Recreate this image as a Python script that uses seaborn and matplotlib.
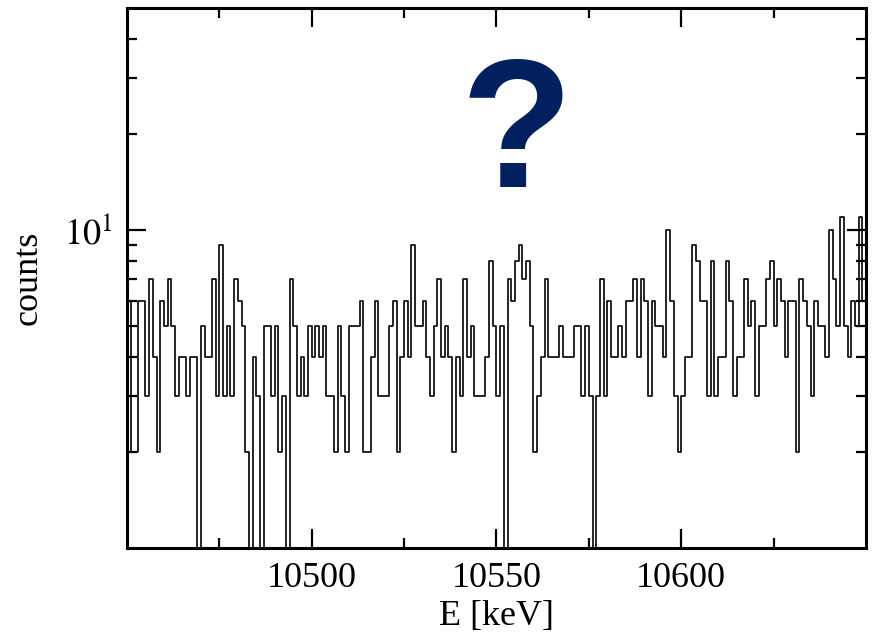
import numpy as np
import pandas as pd
import matplotlib
matplotlib.use('Agg')
import matplotlib.pyplot as plt
import seaborn as sns

# spectrum: 1 keV bins from 10450 to 10650 keV
e_start = 10450
bin_width = 1
counts = [
    6, 2, 2, 6, 6, 3, 7, 4, 2, 6,
    5, 7, 5, 3, 4, 4, 3, 4, 4, 1,
    5, 4, 4, 7, 3, 9, 3, 5, 3, 7,
    6, 5, 2, 1, 4, 3, 1, 5, 5, 3,
    5, 2, 3, 1, 7, 5, 3, 4, 3, 5,
    4, 5, 4, 5, 3, 3, 2, 5, 3, 2,
    5, 5, 5, 6, 2, 2, 4, 6, 3, 3,
    3, 5, 6, 2, 4, 6, 4, 9, 5, 5,
    6, 4, 3, 5, 7, 4, 5, 4, 2, 4,
    3, 7, 4, 5, 3, 3, 3, 4, 8, 5,
    3, 5, 1, 7, 6, 8, 9, 7, 8, 5,
    2, 3, 4, 7, 4, 4, 4, 5, 4, 4,
    4, 5, 5, 3, 5, 3, 1, 3, 7, 3,
    6, 4, 4, 5, 4, 6, 6, 7, 4, 7,
    6, 3, 6, 5, 5, 4, 10, 6, 3, 2,
    3, 4, 4, 9, 8, 6, 6, 3, 8, 3,
    4, 4, 8, 6, 3, 4, 4, 7, 5, 6,
    3, 5, 5, 7, 8, 5, 7, 6, 4, 6,
    6, 2, 7, 6, 5, 3, 6, 5, 5, 4,
    10, 7, 5, 11, 5, 4, 6, 5, 11, 6,
]
x_ticks = [10500, 10550, 10600]
x_minor = [10475, 10525, 10575, 10625]
y_minor = [2, 3, 4, 5, 6, 7, 8, 9, 20, 30, 40]

e_stop = e_start + bin_width * len(counts)
df = pd.DataFrame({'E': e_start + bin_width * (np.arange(len(counts)) + 0.5),
                   'counts': counts})

sns.set_style('ticks', {'axes.edgecolor': 'black', 'text.color': 'black',
                        'axes.labelcolor': 'black', 'xtick.color': 'black',
                        'ytick.color': 'black'})
plt.rcParams['font.family'] = ['Liberation Serif', 'DejaVu Serif']
plt.rcParams['mathtext.fontset'] = 'stix'

fig = plt.figure(figsize=(8.72, 6.43), dpi=100)
ax = fig.add_axes([0.1456, 0.1477, 0.9931 - 0.1456, 0.9876 - 0.1477])

sns.histplot(data=df, x='E', weights='counts', binwidth=bin_width,
             binrange=(e_start, e_stop), element='step',
             fill=False, color='black', linewidth=1.2, ax=ax)

ax.set_yscale('log')
ax.set_xlim(e_start, e_stop)
ax.set_ylim(1, 50)

ax.set_xticks(x_ticks)
ax.set_xticks(x_minor, minor=True)
ax.set_yticks([10])
ax.set_yticklabels(['$10^1$'])
ax.set_yticks(y_minor, minor=True)
ax.yaxis.set_minor_formatter(matplotlib.ticker.NullFormatter())

ax.tick_params(which='both', direction='in', top=True, right=True,
               width=1.6, labelsize=26, pad=10)
ax.tick_params(which='major', length=14)
ax.tick_params(which='minor', length=7)
for sp in ax.spines.values():
    sp.set_linewidth(2.2)

ax.set_xlabel('E [keV]', fontsize=26, labelpad=4)
ax.set_ylabel('counts', fontsize=26, labelpad=14)

ax.text(0.527, 0.915, '?', transform=ax.transAxes, ha='center', va='top',
        fontsize=132, fontweight='bold', family='Liberation Sans', color='#002060')

fig.savefig('out.png', dpi=100)
